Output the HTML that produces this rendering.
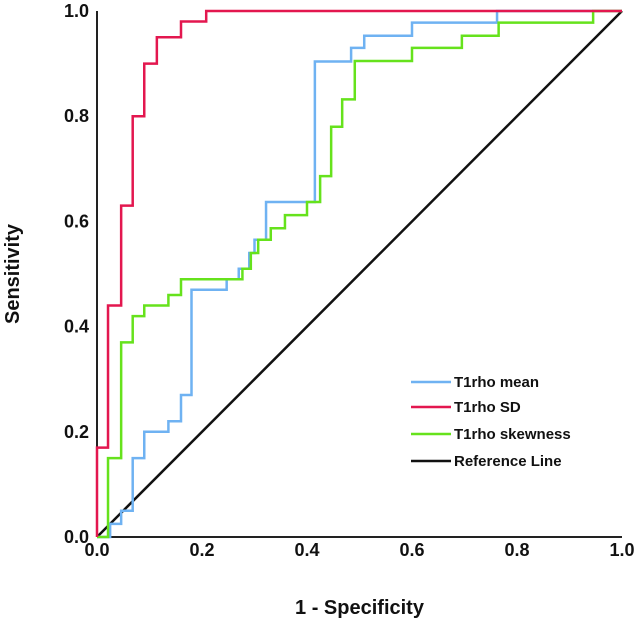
<!DOCTYPE html>
<html><head><meta charset="utf-8"><style>
body{margin:0;background:#fff}
svg text{font-family:"Liberation Sans",Arial,sans-serif;font-weight:bold;fill:#111}
</style></head><body>
<svg id="chart" width="640" height="629" viewBox="0 0 640 629"></svg>
<script>
const ticks=[0,0.2,0.4,0.6,0.8,1.0];
const tickLabels=["0.0","0.2","0.4","0.6","0.8","1.0"];
const seriesNames=["T1rho mean","T1rho SD","T1rho skewness"];
const meanFpr=[0.025,0.046,0.068,0.09,0.136,0.16,0.18,0.247,0.27,0.29,0.30,0.322,0.415,0.484,0.509,0.60,0.762,1];
const meanTpr=[0.025,0.05,0.15,0.20,0.22,0.27,0.47,0.49,0.51,0.54,0.565,0.637,0.904,0.93,0.953,0.978,1,1];
const sdFpr=[0,0.021,0.046,0.068,0.09,0.114,0.16,0.208,1];
const sdTpr=[0.17,0.44,0.63,0.80,0.90,0.95,0.98,1,1];
const skewFpr=[0.021,0.046,0.068,0.09,0.136,0.16,0.277,0.293,0.307,0.331,0.358,0.40,0.425,0.446,0.467,0.491,0.60,0.695,0.765,0.945,1];
const skewTpr=[0.15,0.37,0.42,0.44,0.46,0.49,0.51,0.54,0.565,0.587,0.612,0.637,0.686,0.78,0.832,0.905,0.93,0.953,0.978,1,1];
const colors=["#6fb2f2","#e3174f","#66e21c"];
const svg=document.getElementById('chart');
const NS='http://www.w3.org/2000/svg';
const X0=97,X1=622,Y0=537,Y1=11;
const sx=v=>X0+v*(X1-X0), sy=v=>Y0-v*(Y0-Y1);
function mk(t,a,p){const e=document.createElementNS(NS,t);for(const k in a)e.setAttribute(k,a[k]);(p||svg).appendChild(e);return e;}
let ax=mk('line',{x1:X0,y1:Y1,x2:X0,y2:Y0,stroke:'#222','stroke-width':2});


ax=mk('line',{x1:X0,y1:Y0,x2:X1,y2:Y0,stroke:'#222','stroke-width':2});


ticks.forEach((t,i)=>{
 let e=mk('text',{x:X0-8,y:sy(t)+6,'text-anchor':'end','font-size':18});
 e.textContent=tickLabels[i];
 
 
 e=mk('text',{x:sx(t),y:Y0+19,'text-anchor':'middle','font-size':18});
 e.textContent=tickLabels[i];
 
 
});
let tt=mk('text',{x:sx(0.5),y:614,'text-anchor':'middle','font-size':20});
tt.textContent='1 - Specificity';


tt=mk('text',{x:0,y:0,'text-anchor':'middle','font-size':20,transform:'translate(19,'+sy(0.5)+') rotate(-90)'});
tt.textContent='Sensitivity';


let rl=mk('line',{x1:sx(0),y1:sy(0),x2:sx(1),y2:sy(1),stroke:'#111','stroke-width':2.5});


function stairs(fx,ty,col,name){
 let d='M'+sx(0)+' '+sy(0);
 for(let i=0;i<fx.length;i++){d+=' H'+sx(fx[i])+' V'+sy(ty[i]);}
 const p=mk('path',{d:d,fill:'none',stroke:col,'stroke-width':2.5});
 
 
}
stairs(meanFpr,meanTpr,colors[0],'roc-t1rho-mean');
stairs(skewFpr,skewTpr,colors[2],'roc-t1rho-skewness');
stairs(sdFpr,sdTpr,colors[1],'roc-t1rho-sd');
const legNames=seriesNames.concat(['Reference Line']);
const legCols=colors.concat(['#111']);
const legY=[382,407,434,461];
legNames.forEach((n,i)=>{
 const g=mk('g',{});
 
 
 mk('line',{x1:411,y1:legY[i],x2:451,y2:legY[i],stroke:legCols[i],'stroke-width':2.5},g);
 const t=mk('text',{x:454,y:legY[i]+5,'font-size':15},g);
 t.textContent=n;
});
</script>
</body></html>
